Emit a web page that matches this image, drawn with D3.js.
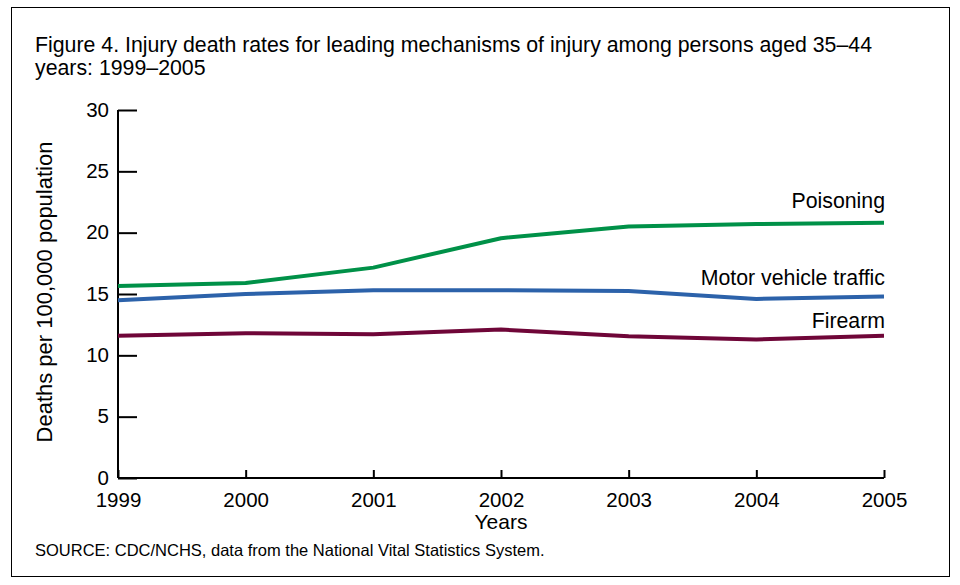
<!DOCTYPE html>
<html>
<head>
<meta charset="utf-8">
<script src="https://cdn.jsdelivr.net/npm/d3@7"></script>
<style>
  body { margin: 0; background: #fff; }
  text { font-family: "Liberation Sans", Arial, sans-serif; fill: #000; }
</style>
</head>
<body>
<div class="chart"></div>
<script>
// Data
const years = [1999, 2000, 2001, 2002, 2003, 2004, 2005];
const poisoning = [15.65, 15.9, 17.15, 19.55, 20.5, 20.7, 20.8];
const motorVehicle = [14.5, 15.0, 15.3, 15.3, 15.25, 14.6, 14.8];
const firearm = [11.6, 11.8, 11.72, 12.1, 11.55, 11.3, 11.6];
const yTicks = [0, 5, 10, 15, 20, 25, 30];

const series = [
    { name: "Poisoning", values: poisoning, color: "#009148", labelDy: -15 },
    { name: "Motor vehicle traffic", values: motorVehicle, color: "#2c62aa", labelDy: -11 },
    { name: "Firearm", values: firearm, color: "#6f0638", labelDy: -8 }
];

const W = 960, H = 585;

const svg = d3.select(".chart")
    .append("svg")
    .attr("width", W)
    .attr("height", H);

// Outer frame
svg.append("rect")
    .attr("x", 11.5).attr("y", 7.5)
    .attr("width", 938).attr("height", 569)
    .attr("fill", "none")
    .attr("stroke", "#000")
    .attr("stroke-width", 1);

// Title
svg.append("text")
    .attr("x", 35).attr("y", 52)
    .attr("font-size", 21.3)
    .text("Figure 4. Injury death rates for leading mechanisms of injury among persons aged 35\u201344");
svg.append("text")
    .attr("x", 35).attr("y", 75)
    .attr("font-size", 21.3)
    .text("years: 1999\u20132005");

// Scales
const x = d3.scaleLinear().domain([1999, 2005]).range([118, 884]);
const y = d3.scaleLinear().domain([0, 30]).range([478, 110]);

// Y axis: ticks point inward
const yAxis = svg.append("g")
    .attr("transform", "translate(118,0)")
    .call(d3.axisRight(y).tickValues(yTicks).tickSize(19).tickFormat(d3.format("d")));
yAxis.select(".domain").attr("stroke", "#000").attr("stroke-width", 2).attr("d", "M0," + y(30) + "V" + y(0));
yAxis.selectAll(".tick line").attr("stroke", "#000").attr("stroke-width", 2);
yAxis.selectAll(".tick text")
    .attr("x", -9)
    .attr("dy", "0.3em")
    .attr("text-anchor", "end")
    .attr("font-size", 20.5)
    .attr("font-family", "Liberation Sans, Arial, sans-serif");

// X axis: ticks point upward
const xAxis = svg.append("g")
    .attr("transform", "translate(0,478)")
    .call(d3.axisTop(x).tickValues(years).tickSize(8).tickFormat(d3.format("d")));
xAxis.select(".domain").attr("stroke", "#000").attr("stroke-width", 2).attr("d", "M" + x(1999) + ",0H" + x(2005));
xAxis.selectAll(".tick line").attr("stroke", "#000").attr("stroke-width", 2);
xAxis.selectAll(".tick text")
    .attr("y", 29)
    .attr("dy", 0)
    .attr("font-size", 20.5)
    .attr("font-family", "Liberation Sans, Arial, sans-serif");

// Axis titles
svg.append("text")
    .attr("x", 501).attr("y", 529)
    .attr("text-anchor", "middle")
    .attr("font-size", 21)
    .text("Years");

svg.append("text")
    .attr("transform", "translate(52,292) rotate(-90)")
    .attr("text-anchor", "middle")
    .attr("font-size", 22)
    .text("Deaths per 100,000 population");

// Lines
const line = d3.line()
    .x((d, i) => x(years[i]))
    .y(d => y(d));

svg.selectAll(".series")
    .data(series)
    .enter()
    .append("path")
    .attr("class", "series")
    .attr("fill", "none")
    .attr("stroke", d => d.color)
    .attr("stroke-width", 4)
    .attr("stroke-linejoin", "round")
    .attr("d", d => line(d.values));

// Series labels at right end
svg.selectAll(".series-label")
    .data(series)
    .enter()
    .append("text")
    .attr("class", "series-label")
    .attr("x", x(2005) + 1)
    .attr("y", d => y(d.values[d.values.length - 1]) + d.labelDy)
    .attr("text-anchor", "end")
    .attr("font-size", 21.3)
    .text(d => d.name);

// Source note
svg.append("text")
    .attr("x", 35).attr("y", 556)
    .attr("font-size", 16.5)
    .text("SOURCE: CDC/NCHS, data from the National Vital Statistics System.");
</script>
</body>
</html>
